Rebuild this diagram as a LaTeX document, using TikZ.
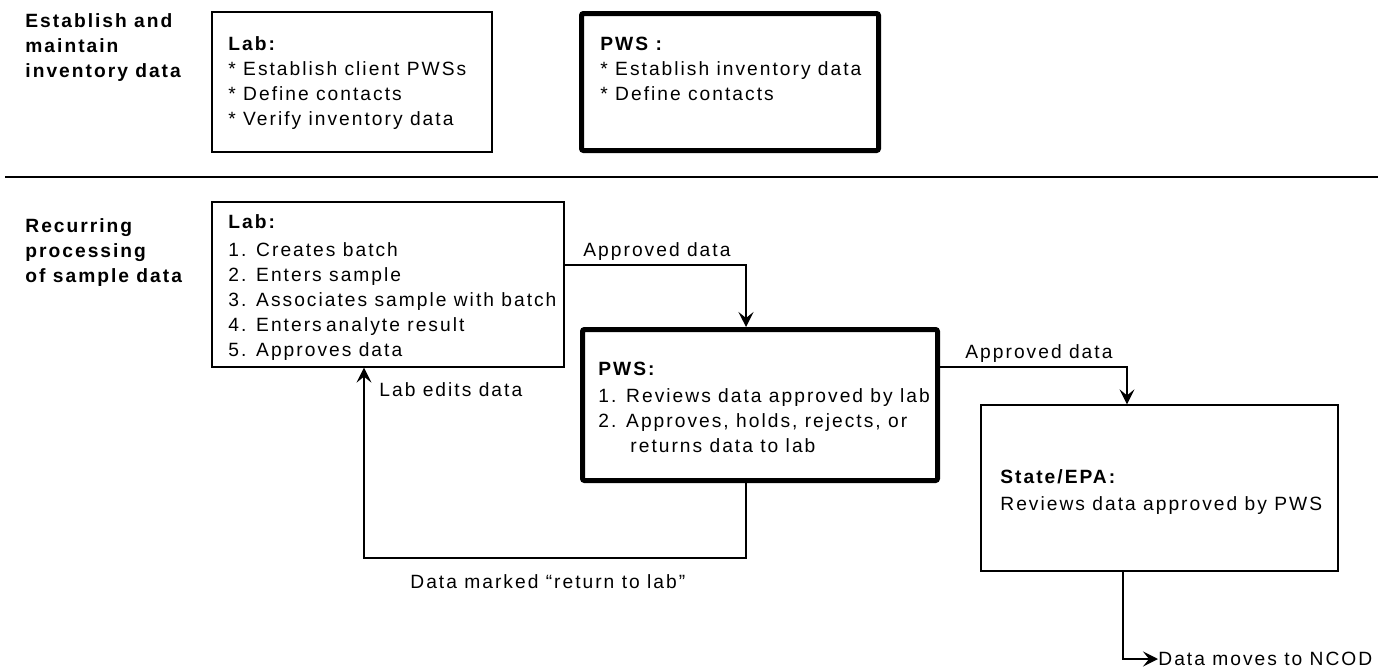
\documentclass[tikz,border=0pt]{standalone}
\usepackage{fontspec}
\setmainfont{Liberation Sans}[LetterSpace=10.5]
\usetikzlibrary{arrows.meta}
\begin{document}
\begin{tikzpicture}[x=0.5pt,y=-0.5pt,
  font=\fontsize{9.6pt}{12.4pt}\selectfont,
  thinbox/.style={draw, line width=0.65pt, inner sep=0pt},
  thickbox/.style={draw, line width=2.5pt, rounded corners=1pt, inner sep=0pt},
  txt/.style={inner sep=0pt, anchor=base west, align=left},
  conn/.style={draw, line width=0.7pt},
  arr/.style={conn, -{Stealth[length=7.5pt, width=7.5pt, inset=3pt]}}]
\useasboundingbox (0,0) rectangle (1397,669);

% section 1 (anchor = baseline of the last line)
\node[txt, font=\fontsize{9.6pt}{12.5pt}\selectfont\bfseries] (sec1) at (25,77) {Establish and\\maintain\\inventory data};
\node[thinbox, minimum width=140pt, minimum height=70pt] (lab1) at (352,82) {};
\node[txt] (lab1t) at (228,125) {\textbf{Lab:}\\* Establish client PWSs\\* Define contacts\\* Verify inventory data};
\node[thickbox, minimum width=148.5pt, minimum height=68.5pt] (pws1) at (730,82) {};
\node[txt] (pws1t) at (600,100) {\textbf{PWS :}\\* Establish inventory data\\* Define contacts};

\coordinate (sepL) at (5,177);
\coordinate (sepR) at (1378,177);
\draw[line width=1pt] (sepL) -- (sepR);

% section 2
\node[txt, font=\fontsize{9.6pt}{12.5pt}\selectfont\bfseries] (sec2) at (25,282) {Recurring\\processing\\of sample data};
\node[thinbox, minimum width=176pt, minimum height=82.5pt] (lab2) at (388,284.5) {};
\node[txt] (lab2t) at (228,356) {\textbf{Lab:}\\[2pt]1. Creates batch\\2. Enters sample\\3. Associates sample with batch\\4. Enters\hspace{0.22em}analyte result\\5. Approves data};

\node[thickbox, minimum width=177.5pt, minimum height=75.5pt] (pws2) at (760,405) {};
\node[txt] (pws2t) at (598,452) {\textbf{PWS:}\\[1.2pt]1. Reviews data approved by lab\\2. Approves, holds, rejects, or\\\hspace{16pt}returns data to lab};

\node[thinbox, minimum width=178.5pt, minimum height=83pt] (state) at (1159.5,488) {};
\node[txt] (statet) at (1000,510) {\textbf{State/EPA:}\\[1pt]Reviews data approved by PWS};

\node[txt] (appr1) at (583,256) {Approved data};
\node[txt] (appr2) at (965,358) {Approved data};
\node[txt] (edits) at (379,396) {Lab edits data};
\node[txt] (ret) at (410,588) {Data marked “return to lab”};
\node[txt] (ncod) at (1158,665) {Data moves to NCOD};

\coordinate (c1) at (746,265);
\coordinate (c2) at (1127,367);
\coordinate (c3) at (746,558);
\coordinate (c4) at (364,558);
\coordinate (c5) at (1123,659);

\draw[arr] (lab2.east |- c1) -- (c1) -- (c1 |- pws2.north);
\draw[arr] (pws2.east |- c2) -- (c2) -- (c2 |- state.north);
\draw[arr] (c3 |- pws2.south) -- (c3) -- (c4) -- (c4 |- lab2.south);
\draw[arr] (c5 |- state.south) -- (c5) -- (ncod.west |- c5);
\end{tikzpicture}
\end{document}
